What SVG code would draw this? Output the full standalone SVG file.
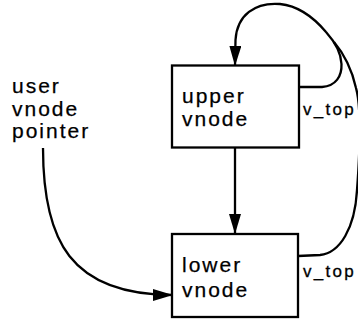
<svg xmlns="http://www.w3.org/2000/svg" width="358" height="320" viewBox="0 0 358 320">
  <style>
    .box { fill: #fff; stroke: #000; stroke-width: 2.3; }
    .lbl { font-family: "Liberation Sans", Arial, sans-serif; font-size: 21px; letter-spacing: 2px; fill: #000; stroke: #000; stroke-width: 0.25; }
    .ptr { font-family: "Liberation Sans", Arial, sans-serif; font-size: 17px; letter-spacing: 2.3px; fill: #000; stroke: #000; stroke-width: 0.3; }
    .edge { fill: none; stroke: #000; stroke-width: 2.3; }
  </style>
  <defs>
    <marker id="arrow" viewBox="0 0 20 12" refX="20" refY="6" markerWidth="20" markerHeight="12" markerUnits="userSpaceOnUse" orient="auto">
      <path d="M0,0 L20,6 L0,12 z" fill="#000"/>
    </marker>
  </defs>

  <rect width="358" height="320" fill="#fff"/>

  <g id="node-upper">
    <rect class="box" x="172" y="65.5" width="127" height="82"/>
    <text class="lbl" x="182" y="103">upper</text>
    <text class="lbl" x="182" y="126">vnode</text>
  </g>

  <g id="node-lower">
    <rect class="box" x="172" y="234" width="126" height="83"/>
    <text class="lbl" x="182" y="272">lower</text>
    <text class="lbl" x="182" y="297">vnode</text>
  </g>

  <g id="node-user">
    <text class="lbl" x="12" y="93">user</text>
    <text class="lbl" x="12" y="115.5">vnode</text>
    <text class="lbl" x="12" y="138">pointer</text>
  </g>

  <g id="connectors">
    <path class="edge" d="M299,87 L322,87 C336,86 342,76 341.5,64 C341,52 335,42 326,32 C315,19 300,6 280,4 C255,2 237,15 235.5,40 L235,66" marker-end="url(#arrow)"/>
    <path class="edge" d="M298,256 L320,255 C340,253 355,228 357,190 C360,150 362,110 356,88 C352,70 345,55 334,42"/>
    <path class="edge" d="M235,148 L235,234" marker-end="url(#arrow)"/>
    <path class="edge" d="M43,148 C43,240 70,295 173,295" marker-end="url(#arrow)"/>
    <text class="ptr" x="303" y="115">v_top</text>
    <text class="ptr" x="303" y="277">v_top</text>
  </g>
</svg>
